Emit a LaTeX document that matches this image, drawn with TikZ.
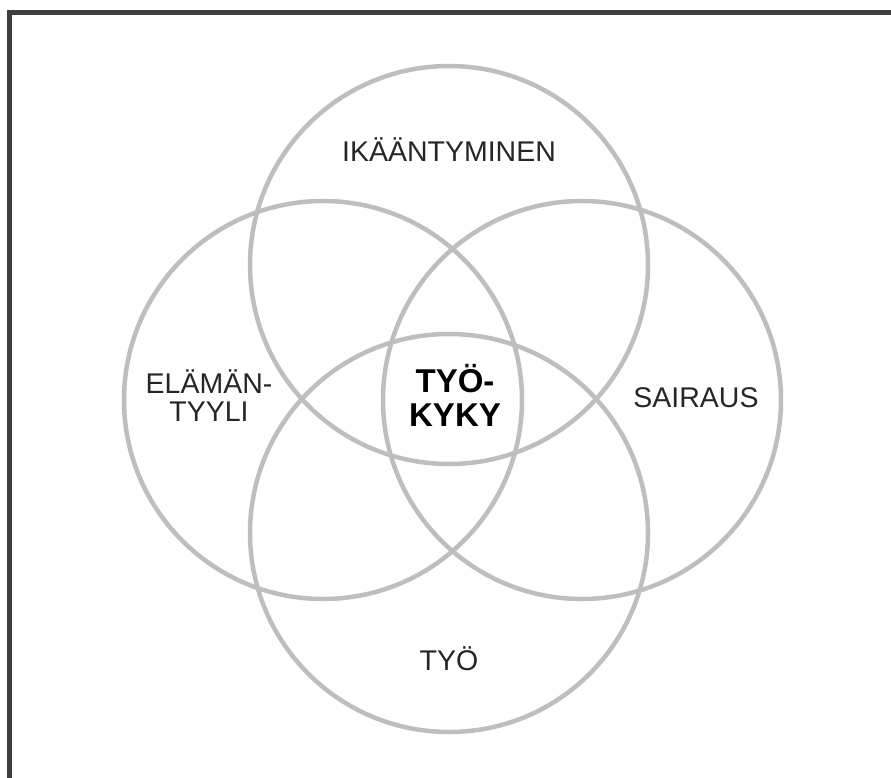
\documentclass[tikz,border=0pt]{standalone}
\usepackage{fontspec}
\setmainfont{Liberation Sans}
\definecolor{ringgray}{RGB}{190, 190, 190}
\definecolor{framegray}{RGB}{62, 62, 62}
\definecolor{textgray}{RGB}{38, 38, 38}
\usetikzlibrary{positioning}
\tikzset{
	ring/.style={circle, draw=ringgray, line width=4.5pt, minimum size=398pt, inner sep=0pt},
	frame/.style={draw=framegray, line width=4.5pt},
	tag/.style={inner sep=0pt, align=center, text=textgray, font=\fontsize{28.5}{28}\selectfont},
	core/.style={inner sep=0pt, align=center, text=black, font=\bfseries\fontsize{33}{34}\selectfont},
}

\begin{document}
\begin{tikzpicture}[x=1pt, y=-1pt]
		\useasboundingbox (0,0) rectangle (891,778);
		\fill[white] (0,0) rectangle (891,778);
		\draw[frame] (9.5,800) -- (9.5,12.5) -- (900,12.5);
		\node[ring] (ika) at (449,265) {};
		\node[ring] (elama) at (323,400) {};
		\node[ring] (sairaus) at (582,400) {};
		\node[ring] (tyo) at (449,533) {};
		\node[tag, anchor=base] (ikaText) at (449,162) {IKÄÄNTYMINEN};
		\node[tag] (elamaText) at (209,396) {ELÄMÄN-\\TYYLI};
		\node[tag, anchor=base] (sairausText) at (696,407) {SAIRAUS};
		\node[tag, anchor=base] (tyoText) at (449,670) {TYÖ};
		\node[core] (kyky) at (455,395) {TYÖ-\\KYKY};
	\end{tikzpicture}
\end{document}
